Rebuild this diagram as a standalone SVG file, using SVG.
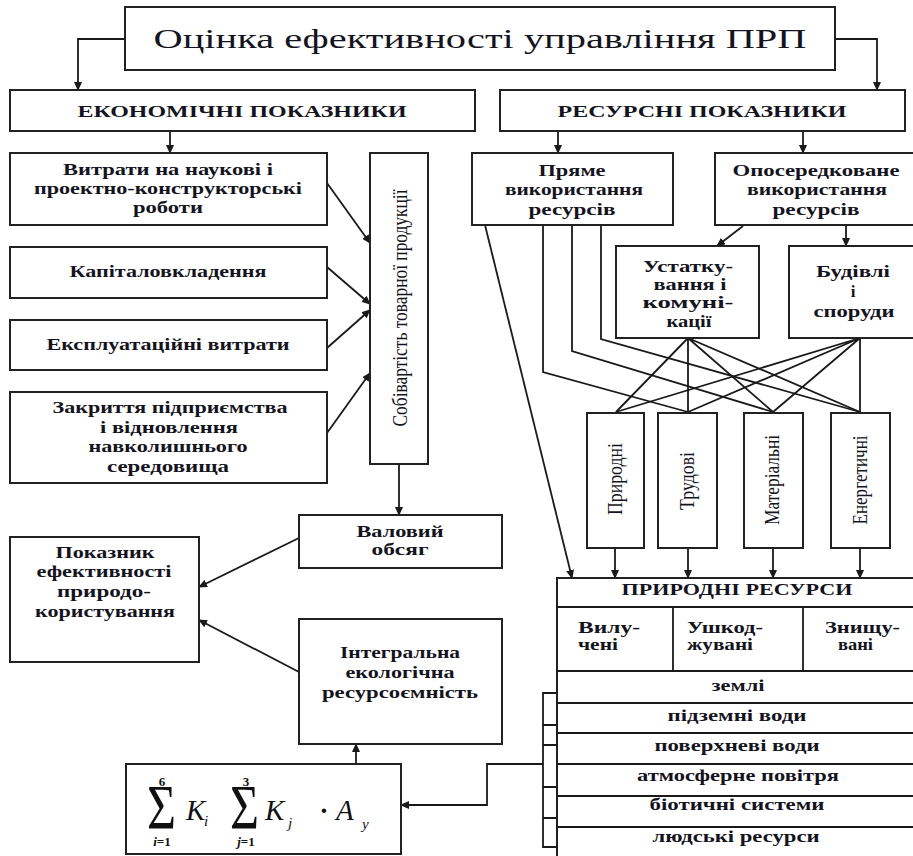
<svg xmlns="http://www.w3.org/2000/svg" width="913" height="856" viewBox="0 0 913 856">
<style>
.box{fill:#fff;stroke:#222;stroke-width:2}
.ln{fill:none;stroke:#1a1a1a;stroke-width:1.8}
.ar{fill:none;stroke:#1a1a1a;stroke-width:1.8;marker-end:url(#ah)}
.t{font-family:"Liberation Serif","Times New Roman",serif;font-weight:bold;font-size:17px;fill:#141420;text-anchor:middle}
.r{font-weight:normal}
.s{text-anchor:start}
.m{font-family:"Liberation Serif","Times New Roman",serif;fill:#111;font-style:italic}
</style>
<defs>
<marker id="ah" markerWidth="9" markerHeight="8" refX="8" refY="4" orient="auto" markerUnits="userSpaceOnUse">
<path d="M0,0 L9,4 L0,8 z" fill="#1a1a1a"/>
</marker>
</defs>

<g id="connectors">
<path class="ar" d="M125,39 H78 V90"/>
<path class="ar" d="M835,39 H877 V90"/>
<path class="ar" d="M170,131 V153"/>
<path class="ar" d="M558,131 V153"/>
<path class="ar" d="M803,131 V153"/>
<path class="ar" d="M327,183 L370,243"/>
<path class="ar" d="M327,267 L370,304"/>
<path class="ar" d="M327,348 L370,310"/>
<path class="ar" d="M327,433 L370,373"/>
<path class="ar" d="M399,464 V515"/>
<path class="ar" d="M299,538 L199,587"/>
<path class="ar" d="M299,672 L199,620"/>
<path class="ar" d="M356,764 V744"/>
<path class="ar" d="M543,764 H487 V805 H401"/>
<path class="ar" d="M743,226 L717,246"/>
<path class="ar" d="M846,225 V246"/>
<path class="ar" d="M485,225 L572,578"/>
<path class="ln" d="M543,225 V372 L688,412"/>
<path class="ln" d="M572,225 V351 L773,412"/>
<path class="ln" d="M601,225 V339 L860,412"/>
<path class="ln" d="M688,338 L616,412 M688,338 L688,412 M688,338 L773,412 M688,338 L860,412"/>
<path class="ln" d="M860,338 L616,412 M860,338 L688,412 M860,338 L773,412 M860,338 L860,412"/>
<path class="ar" d="M615,548 V578"/>
<path class="ar" d="M688,548 V578"/>
<path class="ar" d="M773,548 V578"/>
<path class="ar" d="M860,548 V578"/>
</g>

<g id="title">
<rect class="box" x="125" y="7" width="710" height="63"/>
<text class="t r" x="480" y="48" style="font-size:28px" textLength="653" lengthAdjust="spacingAndGlyphs">Оцінка ефективності управління ПРП</text>
</g>

<g id="econ">
<rect class="box" x="10" y="90" width="465" height="41"/>
<text class="t" x="242" y="117" textLength="329" lengthAdjust="spacingAndGlyphs">ЕКОНОМІЧНІ ПОКАЗНИКИ</text>
</g>

<g id="res">
<rect class="box" x="500" y="90" width="405" height="41"/>
<text class="t" x="702" y="117" textLength="289" lengthAdjust="spacingAndGlyphs">РЕСУРСНІ ПОКАЗНИКИ</text>
</g>

<g id="costs-rd">
<rect class="box" x="10" y="153" width="317" height="72"/>
<text class="t" x="168" y="175" textLength="210" lengthAdjust="spacingAndGlyphs">Витрати на наукові і</text>
<text class="t" x="168" y="194" textLength="268" lengthAdjust="spacingAndGlyphs">проектно-конструкторські</text>
<text class="t" x="168" y="213" textLength="70" lengthAdjust="spacingAndGlyphs">роботи</text>
</g>

<g id="capex">
<rect class="box" x="10" y="247" width="317" height="51"/>
<text class="t" x="168" y="277" textLength="197" lengthAdjust="spacingAndGlyphs">Капіталовкладення</text>
</g>

<g id="opex">
<rect class="box" x="10" y="320" width="317" height="50"/>
<text class="t" x="168" y="350" textLength="243" lengthAdjust="spacingAndGlyphs">Експлуатаційні витрати</text>
</g>

<g id="closure">
<rect class="box" x="10" y="392" width="317" height="91"/>
<text class="t" x="170" y="413" textLength="235" lengthAdjust="spacingAndGlyphs">Закриття підприємства</text>
<text class="t" x="169" y="433" textLength="138" lengthAdjust="spacingAndGlyphs">і відновлення</text>
<text class="t" x="168" y="452" textLength="159" lengthAdjust="spacingAndGlyphs">навколишнього</text>
<text class="t" x="168" y="472" textLength="122" lengthAdjust="spacingAndGlyphs">середовища</text>
</g>

<g id="cost-price">
<rect class="box" x="370" y="153" width="58" height="311"/>
<text class="t r" transform="translate(407,308) rotate(-90)" x="0" y="0" style="font-size:22px" textLength="237" lengthAdjust="spacingAndGlyphs">Собівартість товарної продукції</text>
</g>

<g id="gross">
<rect class="box" x="299" y="515" width="203" height="53"/>
<text class="t" x="400" y="537" textLength="87" lengthAdjust="spacingAndGlyphs">Валовий</text>
<text class="t" x="400" y="555" textLength="57" lengthAdjust="spacingAndGlyphs">обсяг</text>
</g>

<g id="efficiency">
<rect class="box" x="10" y="537" width="189" height="125"/>
<text class="t" x="105" y="558" textLength="99" lengthAdjust="spacingAndGlyphs">Показник</text>
<text class="t" x="104" y="577" textLength="135" lengthAdjust="spacingAndGlyphs">ефективності</text>
<text class="t" x="104" y="597" textLength="94" lengthAdjust="spacingAndGlyphs">природо-</text>
<text class="t" x="105" y="617" textLength="140" lengthAdjust="spacingAndGlyphs">користування</text>
</g>

<g id="integral">
<rect class="box" x="299" y="619" width="203" height="125"/>
<text class="t" x="400" y="658" textLength="120" lengthAdjust="spacingAndGlyphs">Інтегральна</text>
<text class="t" x="400" y="678" textLength="109" lengthAdjust="spacingAndGlyphs">екологічна</text>
<text class="t" x="400" y="698" textLength="156" lengthAdjust="spacingAndGlyphs">ресурсоємність</text>
</g>

<g id="formula">
<rect class="box" x="126" y="764" width="275" height="90"/>
<text class="m" x="147" y="829" style="font-size:64px;font-style:normal" textLength="29" lengthAdjust="spacingAndGlyphs">Σ</text>
<text class="m" x="162" y="786" style="font-size:13px;font-style:normal;font-weight:bold;text-anchor:middle">6</text>
<text class="m" x="162" y="846" style="font-size:13px;font-style:normal;font-weight:bold;text-anchor:middle"><tspan font-style="italic">i</tspan>=1</text>
<text class="m" x="186" y="820" style="font-size:29px">K</text>
<text class="m" x="204" y="826" style="font-size:15px">i</text>
<text class="m" x="230" y="829" style="font-size:64px;font-style:normal" textLength="29" lengthAdjust="spacingAndGlyphs">Σ</text>
<text class="m" x="246" y="786" style="font-size:13px;font-style:normal;font-weight:bold;text-anchor:middle">3</text>
<text class="m" x="246" y="846" style="font-size:13px;font-style:normal;font-weight:bold;text-anchor:middle"><tspan font-style="italic">j</tspan>=1</text>
<text class="m" x="265" y="820" style="font-size:29px">K</text>
<text class="m" x="288" y="828" style="font-size:15px">j</text>
<text class="m" x="324" y="820" style="font-size:28px;font-style:normal;font-weight:bold;text-anchor:middle">·</text>
<text class="m" x="336" y="820" style="font-size:29px">A</text>
<text class="m" x="362" y="829" style="font-size:15px">y</text>
</g>

<g id="direct">
<rect class="box" x="472" y="153" width="201" height="72"/>
<text class="t" x="572" y="176" textLength="67" lengthAdjust="spacingAndGlyphs">Пряме</text>
<text class="t" x="574" y="195" textLength="138" lengthAdjust="spacingAndGlyphs">використання</text>
<text class="t" x="572" y="215" textLength="87" lengthAdjust="spacingAndGlyphs">ресурсів</text>
</g>

<g id="indirect">
<rect class="box" x="715" y="153" width="205" height="72"/>
<text class="t" x="816" y="176" textLength="167" lengthAdjust="spacingAndGlyphs">Опосередковане</text>
<text class="t" x="817" y="195" textLength="140" lengthAdjust="spacingAndGlyphs">використання</text>
<text class="t" x="816" y="215" textLength="87" lengthAdjust="spacingAndGlyphs">ресурсів</text>
</g>

<g id="equipment">
<rect class="box" x="616" y="246" width="143" height="92"/>
<text class="t" x="688" y="272" textLength="90" lengthAdjust="spacingAndGlyphs">Устатку-</text>
<text class="t" x="690" y="290" textLength="73" lengthAdjust="spacingAndGlyphs">вання і</text>
<text class="t" x="688" y="308" textLength="91" lengthAdjust="spacingAndGlyphs">комуні-</text>
<text class="t" x="689" y="327" textLength="45" lengthAdjust="spacingAndGlyphs">кації</text>
</g>

<g id="buildings">
<rect class="box" x="789" y="246" width="131" height="92"/>
<text class="t" x="853" y="277" textLength="74" lengthAdjust="spacingAndGlyphs">Будівлі</text>
<text class="t" x="853" y="297">і</text>
<text class="t" x="854" y="317" textLength="81" lengthAdjust="spacingAndGlyphs">споруди</text>
</g>

<g id="natural">
<rect class="box" x="587" y="413" width="57" height="135"/>
<text class="t r" transform="translate(622,479) rotate(-90)" style="font-size:20px" textLength="72" lengthAdjust="spacingAndGlyphs">Природні</text>
</g>
<g id="labour">
<rect class="box" x="658" y="413" width="59" height="135"/>
<text class="t r" transform="translate(694,481) rotate(-90)" style="font-size:20px" textLength="58" lengthAdjust="spacingAndGlyphs">Трудові</text>
</g>
<g id="material">
<rect class="box" x="744" y="413" width="59" height="135"/>
<text class="t r" transform="translate(779,480) rotate(-90)" style="font-size:20px" textLength="90" lengthAdjust="spacingAndGlyphs">Матеріальні</text>
</g>
<g id="energy">
<rect class="box" x="831" y="413" width="59" height="135"/>
<text class="t r" transform="translate(867,480) rotate(-90)" style="font-size:20px" textLength="89" lengthAdjust="spacingAndGlyphs">Енергетичні</text>
</g>

<g id="natural-resources">
<rect class="box" x="557" y="578" width="366" height="290"/>
<path class="ln" d="M557,607 H923 M557,671 H923 M673,607 V671 M803,607 V671 M557,703 H923 M557,733 H923 M557,764 H923 M557,796 H923 M557,827 H923"/>
<path class="ln" d="M557,693 H543 V847 H557 M543,725 H557 M543,745 H557 M543,787 H557 M543,818 H557"/>
<text class="t" x="737" y="595" textLength="231" lengthAdjust="spacingAndGlyphs">ПРИРОДНІ РЕСУРСИ</text>
<text class="t s" x="578" y="633" textLength="62" lengthAdjust="spacingAndGlyphs">Вилу-</text>
<text class="t s" x="578" y="650" textLength="40" lengthAdjust="spacingAndGlyphs">чені</text>
<text class="t s" x="687" y="633" textLength="76" lengthAdjust="spacingAndGlyphs">Ушкод-</text>
<text class="t s" x="687" y="650" textLength="66" lengthAdjust="spacingAndGlyphs">жувані</text>
<text class="t s" x="825" y="633" textLength="75" lengthAdjust="spacingAndGlyphs">Знищу-</text>
<text class="t s" x="838" y="650" textLength="35" lengthAdjust="spacingAndGlyphs">вані</text>
<text class="t" x="738" y="691" style="font-size:16px" textLength="53" lengthAdjust="spacingAndGlyphs">землі</text>
<text class="t" x="737" y="721" style="font-size:16px" textLength="139" lengthAdjust="spacingAndGlyphs">підземні води</text>
<text class="t" x="737" y="751" style="font-size:16px" textLength="165" lengthAdjust="spacingAndGlyphs">поверхневі води</text>
<text class="t" x="738" y="781" style="font-size:16px" textLength="202" lengthAdjust="spacingAndGlyphs">атмосферне повітря</text>
<text class="t" x="737" y="810" style="font-size:16px" textLength="175" lengthAdjust="spacingAndGlyphs">біотичні системи</text>
<text class="t" x="736" y="842" style="font-size:16px" textLength="167" lengthAdjust="spacingAndGlyphs">людські ресурси</text>
</g>
</svg>
